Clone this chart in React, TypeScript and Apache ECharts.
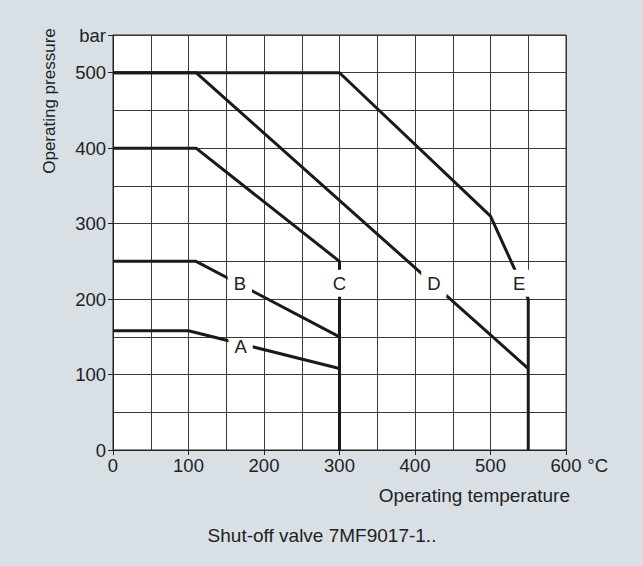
import React, { useEffect, useRef } from 'react';
import * as echarts from 'echarts';

// Curves: [temperature °C, pressure bar]
const curveA = [[0, 158], [100, 158], [300, 108]];
const curveB = [[0, 250], [110, 250], [300, 150]];
const curveC = [[0, 400], [110, 400], [300, 250], [300, 0]];
const curveD = [[0, 500], [110, 500], [550, 108]];
const curveE = [[0, 500], [300, 500], [500, 310], [550, 200], [550, 0]];
const curveNames = ['A', 'B', 'C', 'D', 'E'];
const labelPoints = [[169, 137], [168, 221], [300, 221], [425, 221], [538, 221]];

const xTickValues = [0, 100, 200, 300, 400, 500, 600];
const yTickValues = [0, 100, 200, 300, 400, 500, 550];
const yTickLabels = ['0', '100', '200', '300', '400', '500', 'bar'];
const xUnit = '°C';
const xTitle = 'Operating temperature';
const yTitle = 'Operating pressure';
const caption = 'Shut-off valve 7MF9017-1..';

const FONT = '"Liberation Sans", Arial, Helvetica, sans-serif';
const INK = '#1a1a1a';
const GRIDC = '#3a3a3a';

export default function App() {
  const ref = useRef<HTMLDivElement>(null);
  useEffect(() => {
    document.body.style.margin = '0';
    if (!ref.current) return;
    const chart = echarts.init(ref.current, undefined, { renderer: 'svg' });
    const curves = [curveA, curveB, curveC, curveD, curveE];
    const gridAxisCommon = {
      type: 'value' as const,
      axisLine: { show: false },
      axisTick: { show: false },
      axisLabel: { show: false },
      splitLine: { show: true, lineStyle: { color: GRIDC, width: 1 } },
    };
    const labelAxisCommon = {
      type: 'value' as const,
      splitLine: { show: false },
      axisLine: { show: true, onZero: false, lineStyle: { color: '#222', width: 1 } },
    };
    chart.setOption({
      animation: false,
      backgroundColor: '#d8e0e6',
      textStyle: { fontFamily: FONT },
      grid: {
        left: 113, top: 35, width: 453, height: 415,
        show: true, backgroundColor: '#ffffff', borderColor: '#222', borderWidth: 1,
      },
      xAxis: [
        { ...gridAxisCommon, min: 0, max: 600, interval: 50 },
        {
          ...labelAxisCommon, position: 'bottom', min: 0, max: 600, interval: 100,
          axisTick: { show: true, length: 5, lineStyle: { color: '#222' }, customValues: xTickValues },
          axisLabel: {
            show: true, margin: 6, color: '#222', fontSize: 18.5, fontFamily: FONT,
            customValues: xTickValues, formatter: (v: number) => String(v),
          },
          name: xUnit, nameLocation: 'end', nameGap: 20,
          nameTextStyle: { color: '#222', fontSize: 18.5, fontFamily: FONT, verticalAlign: 'top', padding: [6, 0, 0, 0] },
        },
      ],
      yAxis: [
        { ...gridAxisCommon, min: 0, max: 550, interval: 50 },
        {
          ...labelAxisCommon, position: 'left', min: 0, max: 550, interval: 50,
          axisTick: { show: true, length: 5, lineStyle: { color: '#222' }, customValues: yTickValues },
          axisLabel: {
            show: true, margin: 7, color: '#222', fontSize: 18.5, fontFamily: FONT,
            customValues: yTickValues,
            formatter: (v: number) => {
              const i = yTickValues.indexOf(v);
              return i >= 0 ? yTickLabels[i] : '';
            },
          },
        },
      ],
      series: [
        ...curves.map((c, i) => ({
          type: 'line', name: curveNames[i], xAxisIndex: 0, yAxisIndex: 0,
          data: c, symbol: 'none', z: 3,
          lineStyle: { color: INK, width: 3 },
        })),
        {
          type: 'scatter', xAxisIndex: 0, yAxisIndex: 0, z: 6,
          symbolSize: 0.1, itemStyle: { color: '#ffffff', opacity: 1 },
          data: labelPoints.map((p, i) => ({
            name: curveNames[i], value: p,
            label: curveNames[i] === 'A' ? { padding: [0, 6], lineHeight: 16 } : undefined,
          })),
          label: {
            show: true, position: 'inside', formatter: '{b}', color: '#222', opacity: 1,
            textBorderWidth: 0, textBorderColor: 'transparent',
            fontSize: 18.5, fontFamily: FONT, backgroundColor: '#ffffff',
            padding: [4, 6], lineHeight: 19,
          },
          emphasis: { disabled: true },
        },
      ],
      graphic: [
        {
          type: 'text', x: 570, y: 495,
          style: { text: xTitle, fill: '#222', fontSize: 19, fontFamily: FONT, textAlign: 'right', textVerticalAlign: 'middle', align: 'right', verticalAlign: 'middle' },
        },
        {
          type: 'text', x: 322, y: 535,
          style: { text: caption, fill: '#222', fontSize: 19, fontFamily: FONT, textAlign: 'center', textVerticalAlign: 'middle', align: 'center', verticalAlign: 'middle' },
        },
        {
          type: 'text', x: 49, y: 101, rotation: Math.PI / 2,
          style: { text: yTitle, fill: '#222', fontSize: 17, fontFamily: FONT, textAlign: 'center', textVerticalAlign: 'middle', align: 'center', verticalAlign: 'middle' },
        },
      ],
    });
    return () => chart.dispose();
  }, []);
  return <div ref={ref} style={{ width: 643, height: 566 }} />;
}
